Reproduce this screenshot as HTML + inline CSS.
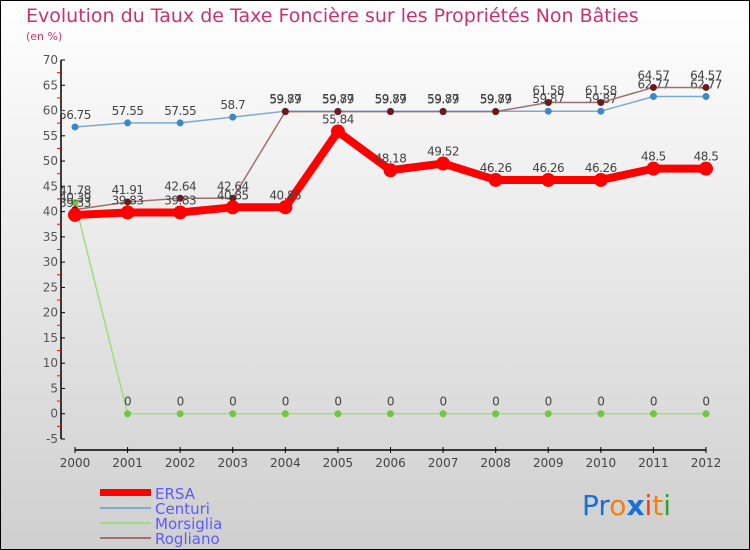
<!DOCTYPE html>
<html><head><meta charset="utf-8"><style>
body{margin:0}
#c{width:750px;height:550px;position:relative;overflow:hidden}
text{font-family:"DejaVu Sans","Liberation Sans",sans-serif}
</style></head><body>
<div id="c">
<svg id="s" width="750" height="550" xmlns="http://www.w3.org/2000/svg">
<defs><linearGradient id="bg" x1="0" y1="0" x2="0" y2="1"><stop offset="0" stop-color="#ffffff"/><stop offset="1" stop-color="#cfcfcf"/></linearGradient></defs>
<rect x="0.5" y="0.5" width="749" height="549" fill="url(#bg)" stroke="#000"/>
<text x="26" y="22" font-size="19" fill="#c8336d">Evolution du Taux de Taxe Foncière sur les Propriétés Non Bâties</text>
<text x="26" y="40" font-size="11" fill="#c8336d">(en %)</text>
<g id="axes"></g><g id="series"></g>
<g>
<rect x="100" y="489" width="51" height="7" fill="#f00"/><text x="155" y="499" font-size="15" fill="#5a5aff">ERSA</text>
<rect x="100" y="507" width="51" height="2" fill="#80a8cc"/><text x="155" y="514" font-size="15" fill="#5a5aff">Centuri</text>
<rect x="100" y="522" width="51" height="2" fill="#a0dc80"/><text x="155" y="529" font-size="15" fill="#5a5aff">Morsiglia</text>
<rect x="100" y="537" width="51" height="2" fill="#a07070"/><text x="155" y="544" font-size="15" fill="#5a5aff">Rogliano</text>
</g>
<g font-size="28" font-family="Liberation Sans">
<text x="582" y="515"><tspan fill="#1a70d0">Pr</tspan><tspan fill="#f08010">o</tspan><tspan fill="#1a70d0" font-weight="bold">x</tspan><tspan fill="#f04010">i</tspan><tspan fill="#f08010">t</tspan><tspan fill="#30a030">i</tspan></text>
</g>
</svg></div>
<script>
const years=[2000,2001,2002,2003,2004,2005,2006,2007,2008,2009,2010,2011,2012];
const ersa=[39.33,39.83,39.83,40.85,40.85,55.84,48.18,49.52,46.26,46.26,46.26,48.5,48.5];
const centuri=[56.75,57.55,57.55,58.7,59.87,59.87,59.87,59.87,59.87,59.87,59.87,62.77,62.77];
const morsiglia=[41.78,0,0,0,0,0,0,0,0,0,0,0,0];
const rogliano=[40.39,41.91,42.64,42.64,59.79,59.79,59.79,59.79,59.79,61.58,61.58,64.57,64.57];
const yTicks=[-5,0,5,10,15,20,25,30,35,40,45,50,55,60,65,70];
const NS="http://www.w3.org/2000/svg";
const X=i=>75+i*(706-75)/(years.length-1);
const Y=v=>60+(70-v)*(379/75);
function mk(t,a,p){const e=document.createElementNS(NS,t);for(const k in a)e.setAttribute(k,a[k]);p.appendChild(e);return e;}
const ax=document.getElementById('axes'),sg=document.getElementById('series');
const ya=mk('line',{x1:61,y1:60,x2:61,y2:439,stroke:'#000','stroke-width':1.5},ax);


yTicks.forEach(v=>{mk('line',{x1:61,x2:65,y1:Y(v),y2:Y(v),stroke:'#000'},ax);
 if(v<70)mk('line',{x1:57,x2:61,y1:Y(v+2.5),y2:Y(v+2.5),stroke:'#f00'},ax);
 const t=mk('text',{x:58,y:Y(v)+4,'font-size':12,fill:'#555','text-anchor':'end'},ax);t.textContent=v;
 
 });
const xa=mk('line',{x1:75,y1:450,x2:706,y2:450,stroke:'#000','stroke-width':1.5},ax);


years.forEach((y,i)=>{mk('line',{x1:X(i),x2:X(i),y1:447,y2:453,stroke:'#000'},ax);
 const t=mk('text',{x:X(i),y:467,'font-size':12,fill:'#444','text-anchor':'middle'},ax);t.textContent=y;
 
 });
function series(d,name,col,w,r,dot,lab){
 const g=mk('g',{},sg);
 
 
 mk('polyline',{points:d.map((v,i)=>X(i)+','+Y(v)).join(' '),fill:'none',stroke:col,'stroke-width':w,'stroke-linejoin':'round'},g);
 d.forEach((v,i)=>{const c=mk('circle',{cx:X(i),cy:Y(v),r:r,fill:dot},g);
  
  
  const t=mk('text',{x:X(i),y:Y(v)-8,'font-size':12,fill:'#444','text-anchor':'middle','letter-spacing':'-0.5'},g);t.textContent=v;
  
  });
}
series(morsiglia,'morsiglia','#a0dc80',1.5,3.5,'#70c840');
series(centuri,'centuri','#80a8cc',1.5,3.5,'#3a88c8');
series(rogliano,'rogliano','#a07070',1.5,3.5,'#6a1a1a');
series(ersa,'ersa','#f00',8,7,'#f00');
</script>
</body></html>
